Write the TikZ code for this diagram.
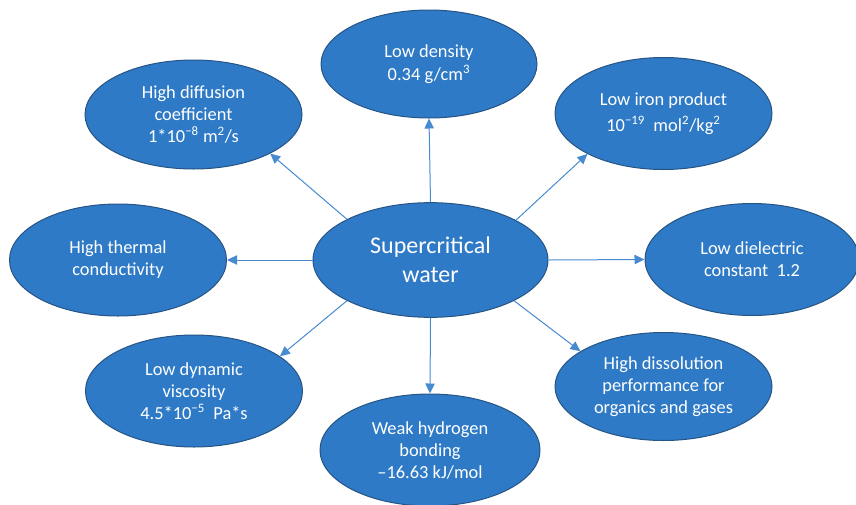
\documentclass[tikz,border=0pt]{standalone}
\usepackage{fontspec}
\setmainfont{Carlito}
\usetikzlibrary{shapes.geometric,arrows.meta}
\definecolor{fillblue}{RGB}{46,122,198}
\definecolor{edgeblue}{RGB}{38,84,132}
\definecolor{arrowblue}{RGB}{70,138,208}
\tikzset{
 bubble/.style={ellipse, fill=fillblue, draw=edgeblue, line width=0.75pt, text=white, align=center, inner sep=0pt, minimum width=162.75pt, minimum height=84pt, font=\fontsize{13.8}{16.5}\selectfont},
 link/.style={draw=arrowblue, line width=0.75pt, -{Triangle[length=7.5pt,width=7pt]}},
}
\begin{document}
\begin{tikzpicture}[x=0.75pt,y=-0.75pt]
\useasboundingbox (0,0) rectangle (856,504);
\clip (0,0) rectangle (856,504);
\node[bubble, minimum width=176.25pt, minimum height=86pt, font=\fontsize{18}{22}\selectfont] (C) at (430.5,260) {Supercritical\\water};
\node[bubble, minimum width=162pt, minimum height=81pt] (T) at (429,64) {Low density\\[1pt]0.34 g/cm\textsuperscript{3}};
\node[bubble, minimum height=81.75pt] (TL) at (193.5,114.5) {High diffusion\\coefficient\\1*10\textsuperscript{−8} m\textsuperscript{2}/s};
\node[bubble] (TR) at (663.5,113.5) {Low iron product\\[3pt]10\textsuperscript{−19}~ mol\textsuperscript{2}/kg\textsuperscript{2}};
\node[bubble] (L) at (118,260) {High thermal\\conductivity};
\node[bubble, minimum width=160.5pt] (R) at (752,259.5) {Low dielectric\\constant~ 1.2};
\node[bubble] (BL) at (194,391) {Low dynamic\\viscosity\\4.5*10\textsuperscript{−5}~ Pa*s};
\node[bubble, minimum width=165pt] (B) at (430,450) {Weak hydrogen\\bonding\\–16.63 kJ/mol};
\node[bubble, minimum height=81pt] (BR) at (663.5,386.5) {High dissolution\\performance for\\organics and gases};
\draw[link] (C.north) -- (T.south);
\draw[link] (C.south) -- (B.north);
\draw[link] (C.west) -- (L.east);
\draw[link] (C.east) -- (R.west);
\draw[link] (C.154.8) -- (TL.333.6);
\draw[link] (C.25.7) -- (TR.208.5);
\draw[link] (C.206.8) -- (BL.22.2);
\draw[link] (C.334.3) -- (BR.157.5);
\end{tikzpicture}
\end{document}
